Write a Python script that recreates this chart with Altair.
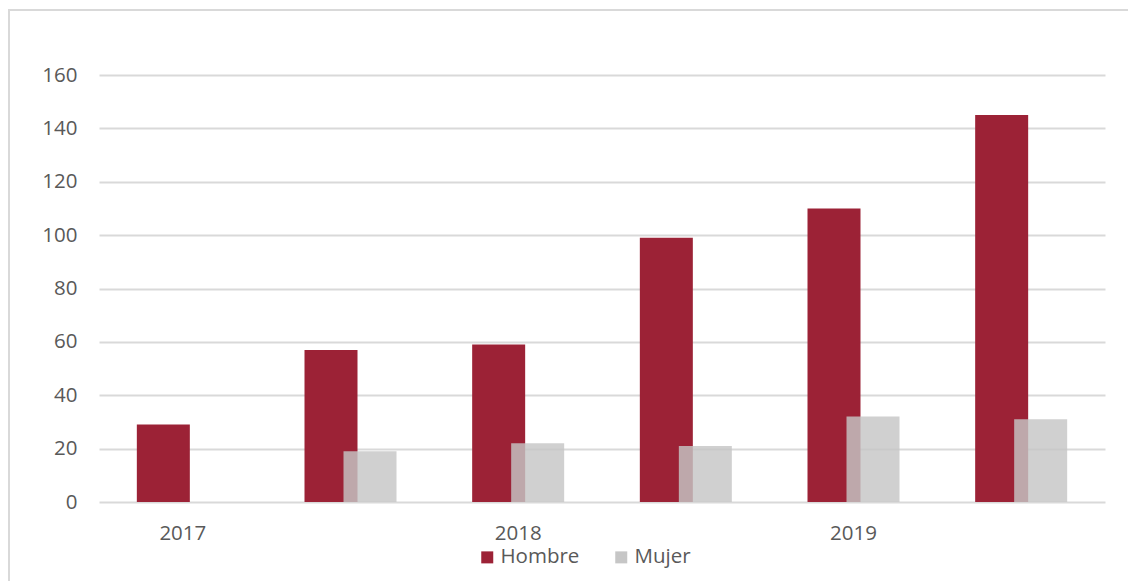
import altair as alt
import pandas as pd

# Half-year periods and counts per sex
periods = ["2017 S1", "2017 S2", "2018 S1", "2018 S2", "2019 S1", "2019 S2"]
hombre = [29, 57, 59, 99, 110, 145]
mujer = [None, 19, 22, 21, 32, 31]
y_ticks = [0, 20, 40, 60, 80, 100, 120, 140, 160]

rows = []
for p, h, m in zip(periods, hombre, mujer):
    rows.append({"periodo": p, "sexo": "Hombre", "valor": h})
    rows.append({"periodo": p, "sexo": "Mujer", "valor": m})
df = pd.DataFrame(rows)

FONT = "Open Sans"
TEXT = "#595959"
GRID = "#d9d9d9"

x_enc = alt.X(
    "periodo:N",
    sort=periods,
    scale=alt.Scale(paddingInner=0, paddingOuter=0),
    axis=alt.Axis(
        title=None,
        labelExpr="slice(datum.value, 5) == 'S1' ? slice(datum.value, 0, 4) : ''",
        labelAngle=0,
        ticks=False,
        domain=False,
        grid=False,
        labelPadding=21,
        labelFontSize=20.5,
        labelColor=TEXT,
        labelFont=FONT,
    ),
)
y_enc = alt.Y(
    "valor:Q",
    scale=alt.Scale(domain=[0, 160], nice=False),
    axis=alt.Axis(
        title=None,
        values=y_ticks,
        ticks=False,
        domain=False,
        grid=True,
        gridColor=GRID,
        gridWidth=2,
        labelPadding=22,
        labelFontSize=20.5,
        labelColor=TEXT,
        labelFont=FONT,
    ),
)
color_enc = alt.Color(
    "sexo:N",
    scale=alt.Scale(domain=["Hombre", "Mujer"], range=["#9c2236", "#c6c6c6"]),
    legend=alt.Legend(
        title=None,
        orient="none",
        direction="horizontal",
        legendX=378,
        legendY=472,
        symbolType="square",
        symbolSize=144,
        symbolStrokeWidth=0,
        symbolOpacity=1,
        labelFontSize=20.5,
        labelColor=TEXT,
        labelFont=FONT,
        labelOffset=3,
        columnPadding=31,
        padding=0,
    ),
)

base = alt.Chart(df)

hombre_bars = base.transform_filter(alt.datum.sexo == "Hombre").mark_bar(
    width=53, xOffset=-19.5
).encode(x=x_enc, y=y_enc, color=color_enc)

mujer_bars = base.transform_filter(alt.datum.sexo == "Mujer").mark_bar(
    width=53, xOffset=19.5, opacity=0.82
).encode(x=x_enc, y=y_enc, color=color_enc)

# light outer frame around the whole figure
frame = alt.Chart(pd.DataFrame({"k": [0]})).mark_rect(
    fillOpacity=0, stroke=GRID, strokeWidth=2
).encode(
    x=alt.value(-90), x2=alt.value(1040), y=alt.value(-65), y2=alt.value(520)
)

chart = alt.layer(frame, hombre_bars, mujer_bars).properties(
    width=1006,
    height=427,
    autosize=alt.AutoSizeParams(type="none"),
    padding={"left": 99, "top": 75, "right": 23, "bottom": 79},
    background="white",
).configure_view(stroke=None)

chart.save("out.html", embed_options={"renderer": "svg", "actions": False})
